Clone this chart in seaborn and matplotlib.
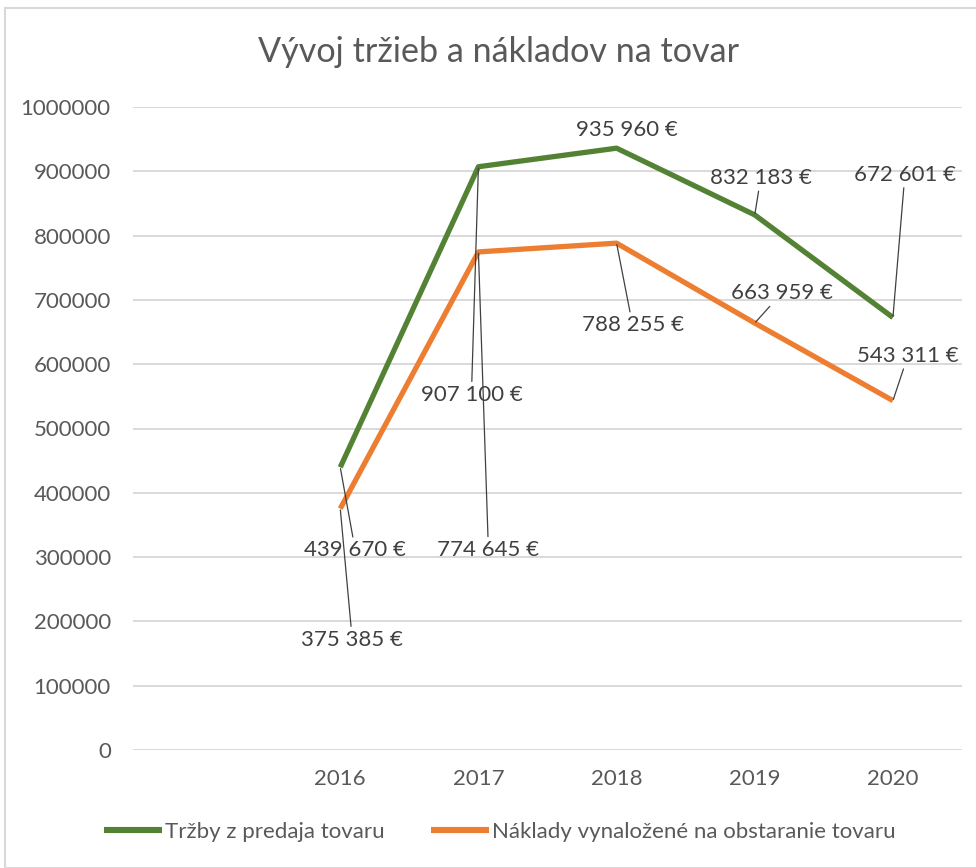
import matplotlib
matplotlib.use("Agg")
import matplotlib.pyplot as plt
import matplotlib.patches as mpatches
import seaborn as sns
import pandas as pd

categories = ["", "2016", "2017", "2018", "2019", "2020"]
years = ["2016", "2017", "2018", "2019", "2020"]
trzby = [439670, 907100, 935960, 832183, 672601]
naklady = [375385, 774645, 788255, 663959, 543311]
series_names = ["Tržby z predaja tovaru", "Náklady vynaložené na obstaranie tovaru"]
title = "Vývoj tržieb a nákladov na tovar"

# label offsets in pixels (dx, dy) relative to the data point, and whether a leader is drawn
trzby_offsets = [(15, -83), (-7, -228), (10, 18), (6, 37), (12, 143)]
trzby_leader = [True, True, False, True, True]
naklady_offsets = [(12, -131), (10, -298), (16, -82), (27, 30), (15, 45)]
naklady_leader = [True, True, True, True, True]

colors = ["#548235", "#ED7D31"]
FS = 16

sns.set_theme(style="white")
plt.rcParams["font.family"] = ["Lato", "DejaVu Sans"]

rows = []
for name, vals in zip(series_names, [trzby, naklady]):
    for y, v in zip(years, vals):
        rows.append({"pos": categories.index(y), "value": v, "series": name})
df = pd.DataFrame(rows)

fig = plt.figure(figsize=(9.76, 8.68), dpi=100)
ax = fig.add_axes([133 / 976, 1 - 750 / 868, (962 - 133) / 976, (750 - 107) / 868])

sns.lineplot(data=df, x="pos", y="value", hue="series", palette=colors,
             linewidth=3.8, ax=ax, legend=True, solid_capstyle="butt")

ax.set_xlim(-0.5, len(categories) - 0.5)
ax.set_ylim(0, 1000000)
ax.set_yticks(range(0, 1000001, 100000))
ax.set_yticklabels([str(v) for v in range(0, 1000001, 100000)])
ax.set_xticks(range(len(categories)))
ax.set_xticklabels(categories)
ax.set_xlabel("")
ax.set_ylabel("")
ax.yaxis.grid(True, color="#D9D9D9", linewidth=1.4)
ax.set_axisbelow(True)
for s in ax.spines.values():
    s.set_visible(False)
ax.tick_params(axis="both", length=0, colors="#595959", labelsize=FS)
ax.tick_params(axis="y", pad=16)
ax.tick_params(axis="x", pad=14)


def fmt(v):
    return f"{v:,}".replace(",", " ") + " €"


for vals, offs, leads in [(trzby, trzby_offsets, trzby_leader), (naklady, naklady_offsets, naklady_leader)]:
    for y, v, (dx, dy), lead in zip(years, vals, offs, leads):
        kw = {}
        if lead:
            kw["arrowprops"] = dict(arrowstyle="-", color="#404040", lw=0.9,
                                    shrinkA=0, shrinkB=1)
        ax.annotate(fmt(v), xy=(categories.index(y), v), xytext=(dx, dy),
                    textcoords="offset pixels", ha="center", va="center",
                    fontsize=FS, color="#404040", **kw)

fig.suptitle(title, x=499 / 976, y=1 - 52 / 868, va="center", fontsize=24.6, color="#595959")

handles, labels = ax.get_legend_handles_labels()
for h in handles:
    h.set_linewidth(4.4)
ax.legend(handles, labels, loc="center", bbox_to_anchor=(500 / 976, 1 - 832 / 868),
          bbox_transform=fig.transFigure, ncol=2, frameon=False, fontsize=FS,
          handlelength=2.6, handletextpad=0.15, columnspacing=2.1, labelcolor="#595959")

fig.patches.append(mpatches.Rectangle((5 / 976, 0.0), 1.1, 1 - 8 / 868, transform=fig.transFigure,
                                      fill=False, edgecolor="#D9D9D9", linewidth=1.5))

fig.savefig("out.png", dpi=100)
